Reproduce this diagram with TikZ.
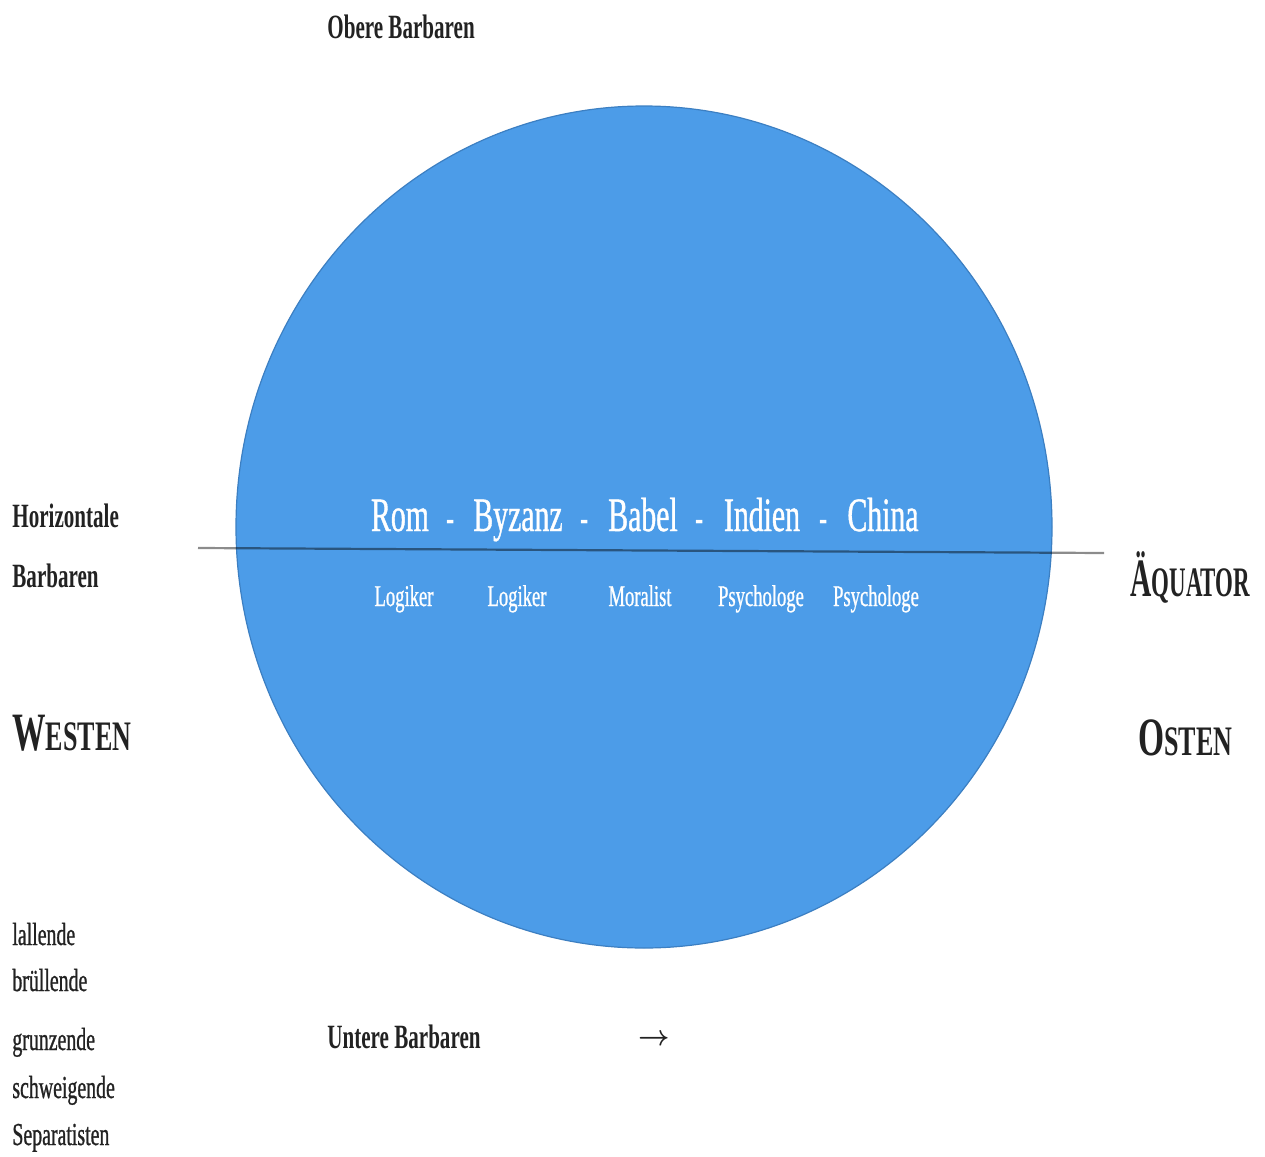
\documentclass[tikz,border=0pt]{standalone}
\usepackage{fontspec}
\usepackage{graphicx}
\setmainfont[FakeStretch=0.62]{Liberation Serif}
\newfontfamily\heavyserif[FakeStretch=0.62, FakeBold=0.8]{Liberation Serif}
\usetikzlibrary{positioning, shapes.geometric}
\definecolor{cGlobe}{HTML}{4C9CE8}
\definecolor{cGlobeRim}{HTML}{3C7FC2}
\definecolor{cInk}{HTML}{222222}
\newcommand{\capsword}[3][1]{\scalebox{#1}[1]{{\fontsize{27}{27}\selectfont #2}{\fontsize{21}{21}\selectfont #3}}}
\tikzset{
  globe/.style={ellipse, fill=cGlobe, draw=cGlobeRim, line width=0.6pt,
    minimum width=408pt, minimum height=421pt, inner sep=0pt},
  equator/.style={draw=black, opacity=0.45, line width=1.1pt},
  sidelabel/.style={text=cInk, inner sep=0pt, font=\fontsize{17}{17}\selectfont\bfseries},
  compasslabel/.style={text=cInk, inner sep=0pt, font=\bfseries},
  listword/.style={text=cInk, inner sep=0pt, font=\heavyserif\fontsize{16}{16}\selectfont},
  citylabel/.style={text=white, inner sep=0pt, font=\heavyserif\fontsize{24}{24}\selectfont},
  dashmark/.style={text=white, inner sep=0pt, font=\fontsize{20}{20}\selectfont\bfseries},
  rolelabel/.style={text=white, inner sep=0pt, font=\heavyserif\fontsize{15}{15}\selectfont},
}

\begin{document}
\begin{tikzpicture}[x=0.5pt, y=-0.5pt]
  \useasboundingbox (0,0) rectangle (1265,1157);

  % ----------------------------------------------------------------
  % The globe and its equator
  % ----------------------------------------------------------------
  \node[globe] (globe) at (644,527) {};
  \coordinate (eqwest) at (198,548);
  \coordinate (eqeast) at (1104,553);
  \draw[equator] (eqwest) -- (eqeast);

  % ----------------------------------------------------------------
  % Cities along the equator
  % ----------------------------------------------------------------
  \node[citylabel, anchor=base] (rom)    at (400,531) {Rom};
  \node[dashmark,  anchor=base] (d1)     at (451,531) {-};
  \node[citylabel, anchor=base] (byzanz) at (518,531) {Byzanz};
  \node[dashmark,  anchor=base] (d2)     at (585,531) {-};
  \node[citylabel, anchor=base] (babel)  at (643,531) {Babel};
  \node[dashmark,  anchor=base] (d3)     at (700,531) {-};
  \node[citylabel, anchor=base] (indien) at (762,531) {Indien};
  \node[dashmark,  anchor=base] (d4)     at (824,531) {-};
  \node[citylabel, anchor=base] (china)  at (883,531) {China};

  % roles below the line
  \node[rolelabel, anchor=base] (r1) at (404,606) {Logiker};
  \node[rolelabel, anchor=base] (r2) at (517,606) {Logiker};
  \node[rolelabel, anchor=base] (r3) at (640,606) {Moralist};
  \node[rolelabel, anchor=base] (r4) at (761,606) {Psychologe};
  \node[rolelabel, anchor=base] (r5) at (876,606) {Psychologe};

  % ----------------------------------------------------------------
  % Barbarians above, beside and below
  % ----------------------------------------------------------------
  \node[sidelabel, anchor=base west] (obere)  at (327,38)   {Obere Barbaren};
  \node[sidelabel, anchor=base west] (horiz)  at (12,527)   {Horizontale};
  \node[sidelabel, anchor=base west] (barb)   at (12,587)   {Barbaren};
  \node[sidelabel, anchor=base west] (untere) at (327,1048) {Untere Barbaren};
  \node[text=cInk, inner sep=0pt] (pfeil) at (654,1040) {\scalebox{0.95}[1]{\Large\boldmath$\rightarrow$}};

  % ----------------------------------------------------------------
  % West / east
  % ----------------------------------------------------------------
  \node[compasslabel, anchor=base west] (westen)   at (12,750)   {\capsword{W}{ESTEN}};
  \node[compasslabel, anchor=base west] (aequator) at (1130,596) {\capsword[0.88]{Ä}{QUATOR}};
  \node[compasslabel, anchor=base west] (osten)    at (1138,755) {\capsword{O}{STEN}};

  % ----------------------------------------------------------------
  % Kinds of barbarians
  % ----------------------------------------------------------------
  \node[listword, anchor=base west] (w1) at (12,945)  {lallende};
  \node[listword, anchor=base west] (w2) at (12,991)  {brüllende};
  \node[listword, anchor=base west] (w3) at (12,1050) {grunzende};
  \node[listword, anchor=base west] (w4) at (12,1098) {schweigende};
  \node[listword, anchor=base west] (w5) at (12,1145) {Separatisten};

\end{tikzpicture}
\end{document}
